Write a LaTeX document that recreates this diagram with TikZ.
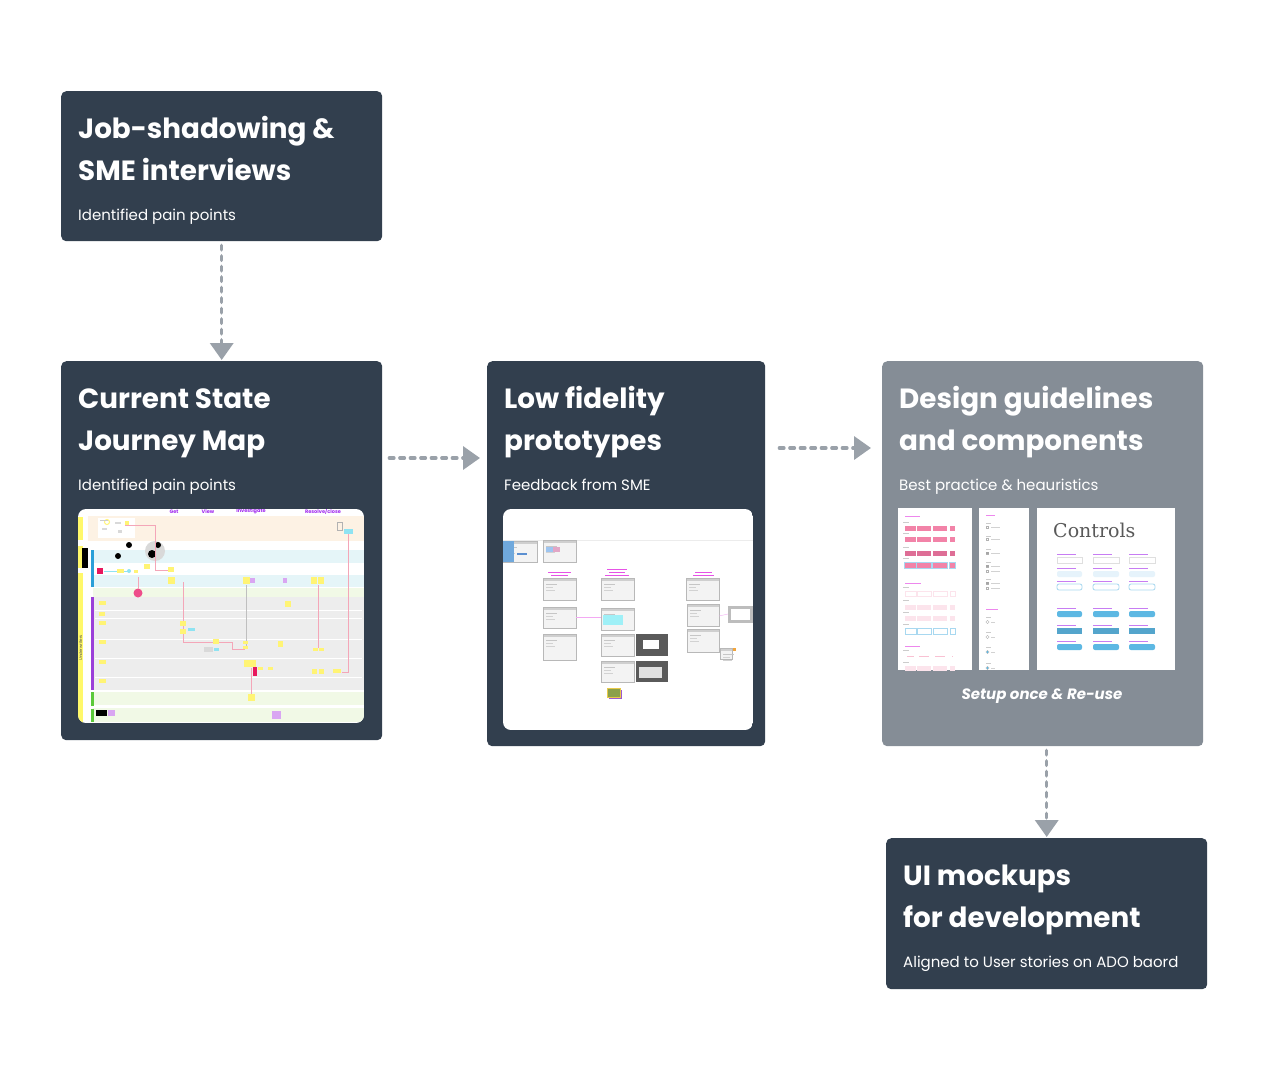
\documentclass[tikz,border=0pt]{standalone}
\usepackage{fontspec}
\setmainfont{Poppins}
\newfontfamily\slabfont{DejaVu Serif}
\usetikzlibrary{arrows.meta}
\definecolor{boxdark}{HTML}{323F4E}
\definecolor{boxgray}{HTML}{858D96}
\definecolor{arrowgray}{HTML}{9AA1A9}
\definecolor{jpeach}{HTML}{FDF2E4}
\definecolor{jcyan}{HTML}{E5F5F8}
\definecolor{jgreen}{HTML}{F1F9E6}
\definecolor{jgrey}{HTML}{EDEDED}
\definecolor{jyellow}{HTML}{FFF86A}
\definecolor{jblue}{HTML}{2A9FD8}
\definecolor{jpurple}{HTML}{9B3FD9}
\definecolor{jgreenbar}{HTML}{5CC93A}
\definecolor{jsticky}{HTML}{FFF475}
\definecolor{jlilac}{HTML}{D9A6F2}
\definecolor{jpinkline}{HTML}{F4A6B8}
\definecolor{jtitle}{HTML}{A12BF0}
\definecolor{jhot}{HTML}{EE4D8A}
\definecolor{jred}{HTML}{E8175D}
\definecolor{jaqua}{HTML}{8FE3F2}
\definecolor{shotfill}{HTML}{F3F3F3}
\definecolor{shotbar}{HTML}{CFCFCF}
\definecolor{shotline}{HTML}{B8B8B8}
\definecolor{magtext}{HTML}{E653E6}
\definecolor{pbtn}{HTML}{F283A8}
\definecolor{pbtndark}{HTML}{DE6E96}
\definecolor{plight}{HTML}{FCE4EC}
\definecolor{lblue}{HTML}{A8D8F0}
\definecolor{cblue}{HTML}{5DB8E3}
\definecolor{clight}{HTML}{E6F3FB}
\definecolor{clabel}{HTML}{C77DF3}
\definecolor{pa}{HTML}{6FA8DC}
\definecolor{pb}{HTML}{5B8FD0}
\definecolor{pc}{HTML}{9EC5F0}
\definecolor{pd}{HTML}{E2A6C6}
\definecolor{pe}{HTML}{9FF0F7}
\definecolor{pf}{HTML}{5A5A5A}
\definecolor{pg}{HTML}{E0E0E0}
\definecolor{ph}{HTML}{BDBDBD}
\definecolor{pi}{HTML}{F2A43A}
\definecolor{pj}{HTML}{9B59D0}
\definecolor{pk}{HTML}{8BA04A}
\definecolor{pl}{HTML}{E8C94A}

\newcommand\shotbox[4]{%
  \fill[shotfill] (#1,#2) rectangle (#3,#4);
  \fill[shotbar] (#1,#2) rectangle (#3,#2+2.5);
  \draw[shotline,line width=0.6pt] (#1,#2) rectangle (#3,#4);
  \draw[gray!45,line width=0.5pt] (#1+3,#2+6) -- (#1+14,#2+6);
  \draw[gray!35,line width=0.4pt] (#1+3,#2+9) -- (#1+10,#2+9);
  \draw[gray!35,line width=0.4pt] (#1+3,#2+12) -- (#1+12,#2+12);
}
\newcommand\stickynote[5]{\fill[#5] (#1,#2) rectangle (#1+#3,#2+#4);}

\begin{document}
\begin{tikzpicture}[x=1pt,y=-1pt,
  box/.style={fill=boxdark, rounded corners=5pt, inner sep=0pt, anchor=north west},
  graybox/.style={fill=boxgray, rounded corners=5pt, inner sep=0pt, anchor=north west},
  title/.style={text=white, anchor=base west, inner sep=0pt, font=\fontsize{27.8}{30}\selectfont\bfseries},
  sub/.style={text=white, anchor=base west, inner sep=0pt, font=\fontsize{15}{17}\selectfont},
  flow/.style={draw=arrowgray, line width=3.5pt, line cap=round, dash pattern=on 4.5pt off 6pt,
    -{Triangle[length=17pt,width=23pt,line cap=butt]}},
  tiny/.style={inner sep=0pt, font=\fontsize{5}{5}\selectfont\bfseries, text=jtitle}
]
\useasboundingbox (0,0) rectangle (1268,1080);

% ---------- boxes ----------
\node[box, minimum width=321pt, minimum height=150pt] (b1) at (61,91) {};
\node[box, minimum width=321pt, minimum height=379pt] (b2) at (61,361) {};
\node[box, minimum width=278pt, minimum height=385pt] (b3) at (487,361) {};
\node[graybox, minimum width=321pt, minimum height=385pt] (b4) at (882,361) {};
\node[box, minimum width=321pt, minimum height=151pt] (b5) at (886,838) {};

% ---------- texts ----------
\node[title] (t1a) at (78,138) {Job-shadowing \&};
\node[title] (t1b) at (78,180) {SME interviews};
\node[sub]   (s1)  at (78,220) {Identified pain points};

\node[title] (t2a) at (78,408) {Current State};
\node[title] (t2b) at (78,450) {Journey Map};
\node[sub]   (s2)  at (78,490) {Identified pain points};

\node[title] (t3a) at (504,408) {Low fidelity};
\node[title] (t3b) at (504,450) {prototypes};
\node[sub]   (s3)  at (504,490) {Feedback from SME};

\node[title] (t4a) at (899,408) {Design guidelines};
\node[title] (t4b) at (899,450) {and components};
\node[sub]   (s4)  at (899,490) {Best practice \& heauristics};
\node[text=white, anchor=base, inner sep=0pt, font=\fontsize{15}{17}\selectfont\bfseries\itshape] (s4b) at (1042,699) {Setup once \& Re-use};

\node[title] (t5a) at (903,885) {UI mockups};
\node[title] (t5b) at (903,927) {for development};
\node[sub]   (s5)  at (903,967) {Aligned to User stories on ADO baord};

% ---------- arrows ----------
\coordinate (y2) at (0,458);
\coordinate (y3) at (0,448);
\draw[flow, shorten <=4pt, shorten >=1pt] (b1.south) -- (b2.north);
\draw[flow, shorten <=7pt, shorten >=7pt] (b2.east |- y2) -- (b3.west |- y2);
\draw[flow, shorten <=14pt, shorten >=11pt] (b3.east |- y3) -- (b4.west |- y3);
\draw[flow, shorten <=4pt, shorten >=1pt] (b4.south -| b5.north) -- (b5.north);

% ---------- journey map thumbnail ----------
\begin{scope}
\clip[rounded corners=8pt] (78,509) rectangle (364,723);
\fill[white] (78,509) rectangle (364,723);
\fill[jpeach] (88,516) rectangle (364,541);
\fill[jcyan] (93,550) rectangle (364,563);
\fill[jcyan] (93,575) rectangle (364,587);
\fill[jgreen] (93,588) rectangle (364,597);
\fill[jgrey] (93,597) rectangle (364,690);
\foreach \yy in {610,618,639,658,677} \draw[white, line width=0.7pt] (95,\yy) -- (362,\yy);
\fill[jgreen] (93,692) rectangle (364,705);
\fill[jgreen] (93,708) rectangle (364,722);
\fill[jyellow] (78,517) rectangle (83,540);
\fill[jyellow] (78,546) rectangle (83,568);
\fill[jyellow] (78,573) rectangle (83,723);
\fill[black] (82,548) rectangle (88,568);
\fill[jblue] (91,550) rectangle (94,587);
\fill[jpurple] (91,597) rectangle (94,690);
\fill[jgreenbar] (91,692) rectangle (94,706);
\fill[jgreenbar] (91,709) rectangle (94,722);
\node[inner sep=0pt, rotate=90, font=\fontsize{4}{4}\selectfont, text=black!70] (jl) at (80.5,648) {Underwriters};
% small diagram area
\fill[white] (98,518) rectangle (135,538);
\draw[jsticky, line width=1pt] (107,522) circle (2.5);
\fill[gray!40] (100,520) rectangle (108,521);
\fill[gray!30] (115,522) rectangle (121,524);
\fill[gray!30] (118,530) rectangle (122,533);
\fill[gray!30] (102,528) rectangle (107,530);
\fill[jsticky] (125,521) rectangle (129,525);
% circles
\fill[gray!30] (155,551) circle (10);
\fill[black] (118,556) circle (3);
\fill[black] (129,545) circle (3);
\fill[black] (158,545) circle (3);
\fill[black] (152,554) circle (4);
\fill[jhot] (138,593) circle (4.5);
\fill[jred] (97,568) rectangle (103,574);
% pink lines
\draw[jpinkline, line width=0.7pt] (125,525) -- (155,525) -- (155,570) -- (172,570);
\draw[jpinkline, line width=0.7pt] (348,532) -- (348,672) -- (342,672);
\draw[jpinkline, line width=0.7pt] (251,668) -- (251,700);
\draw[jpinkline, line width=0.7pt] (183,582) -- (183,642) -- (232,642) -- (232,649) -- (245,649);
\draw[jpinkline, line width=0.7pt] (318,585) -- (318,648);
\draw[jpinkline, line width=0.7pt] (138,577) -- (138,589);
\draw[gray!50, line width=0.4pt] (246,585) -- (246,648);
\draw[jaqua, line width=0.5pt] (104,571) -- (130,571);
\fill[jaqua] (129,571) circle (2);
% stickies
\foreach \sx/\sy/\sw/\sh in {117/569/7/4, 144/564/6/5, 168/567/6/5, 168/577/7/7, 243/577/7/7,
  311/577/6/7, 318/577/6/7, 285/601/6/6, 99/601/7/4, 99/612/6/4, 99/621/7/4, 99/640/7/4,
  99/660/7/4, 99/679/7/4, 180/621/6/5, 180/629/6/5, 213/639/6/5, 243/641/5/3, 243/646/5/3,
  278/641/5/6, 244/660/12/7, 258/667/5/3, 268/667/5/3, 313/648/5/3, 319/648/5/3, 312/669/5/5,
  319/669/5/5, 333/669/8/4, 248/694/7/7, 134/570/4/3}
  {\stickynote{\sx}{\sy}{\sw}{\sh}{jsticky}}
\foreach \sx/\sy/\sw/\sh in {250/578/5/5, 283/578/4/5, 108/710/7/6, 272/711/9/8}
  {\stickynote{\sx}{\sy}{\sw}{\sh}{jlilac}}
\fill[black] (96,710) rectangle (107,716);
\fill[jred] (253,667) rectangle (257,676);
\foreach \sx/\sy/\sw/\sh in {344/529/9/5, 188/628/7/3, 214/648/5/3}
  {\stickynote{\sx}{\sy}{\sw}{\sh}{jaqua}}
\draw[gray!60, line width=0.4pt] (337,522) rectangle (342,530);
\fill[gray!30] (204,647) rectangle (213,652);
% column titles
\node[tiny, anchor=center] (jg) at (174,511.5) {Get};
\node[tiny, anchor=center] (jv) at (208,511.5) {View};
\node[tiny, anchor=center] (ji) at (251,511.5) {Investigate};
\node[tiny, anchor=center] (jr) at (323,511.5) {Resolve/close};
\end{scope}

% ---------- prototypes thumbnail ----------
\begin{scope}
\clip[rounded corners=8pt] (503,509) rectangle (753,730);
\fill[white] (503,509) rectangle (753,730);
\draw[gray!15, line width=0.6pt] (503,540) -- (753,540);
\shotbox{503}{541}{537}{562}
\fill[pa] (503,541) rectangle (514,562);
\fill[pb] (517,553) rectangle (527,554.5);
\shotbox{543}{540}{576}{562}
\fill[pc] (546,547) rectangle (553,552);
\fill[pd] (553,547) rectangle (560,552);
\shotbox{543}{578}{576}{600}
\shotbox{543}{607}{576}{628}
\shotbox{543}{634}{576}{660}
\shotbox{601}{578}{634}{600}
\shotbox{601}{608}{634}{630}
\fill[pe] (603,615) rectangle (623,625);
\shotbox{601}{634}{634}{656}
\fill[pf] (636,634) rectangle (668,656);
\fill[white] (643,640) rectangle (659,649);
\shotbox{601}{661}{634}{682}
\fill[pf] (636,661) rectangle (668,682);
\fill[pg] (639,667) rectangle (662,678);
\shotbox{686}{578}{719}{600}
\shotbox{687}{604}{719}{626}
\fill[ph] (728,606) rectangle (753,623);
\fill[white] (731,609) rectangle (750,620);
\shotbox{687}{629}{719}{652}
\shotbox{720}{648}{732}{659}
\fill[pi] (733,648) rectangle (736,651);
\fill[pj] (609,690) rectangle (622,699);
\filldraw[fill=pk, draw=pl, line width=0.6pt] (607,688) rectangle (620,697);
\foreach \lx/\ly/\lw in {548/572/23, 551/575/17, 607/569/20, 609/572/16, 605/575/24, 695/572/17, 693/575/21}
  \draw[magtext, line width=0.7pt] (\lx,\ly) -- (\lx+\lw,\ly);
\draw[magtext!50, line width=0.4pt] (576,617) -- (601,617);
\draw[magtext!50, line width=0.4pt] (719,616) -- (728,614);
\end{scope}

% ---------- design guideline panels ----------
\fill[white] (898,508) rectangle (972,670);
\fill[white] (979,508) rectangle (1029,670);
\fill[white] (1037,508) rectangle (1175,670);
% panel 1
\draw[magtext!70, line width=0.8pt] (905,516) -- (920,516);
\foreach \yy in {522,533,547,558,587,600,612,624,650,662}
  \draw[gray!40, line width=0.6pt] (903,\yy) -- (909,\yy);
\foreach \yy/\cc in {528/pbtn,539/pbtn,553/pbtndark,565/pbtn}
  \foreach \xa/\xb in {905/916,917/931,933/947,950/955}
    \fill[\cc] (\xa,\yy-2.5) rectangle (\xb,\yy+2.5);
\foreach \xa/\xb in {905/916,917/931,933/947,950/955}
  \draw[lblue, line width=0.5pt] (\xa-0.7,565-3.2) rectangle (\xb+0.7,565+3.2);
\draw[magtext!70, line width=0.8pt] (905,583) -- (921,583);
\foreach \yy/\cc in {607/plight,618/plight}
  \foreach \xa/\xb in {905/916,917/931,933/947,950/955}
    \fill[\cc] (\xa,\yy-2.5) rectangle (\xb,\yy+2.5);
\foreach \xa/\xb in {905/916,917/931,933/947,950/955}{
  \draw[plight, line width=0.5pt] (\xa,594-2.5) rectangle (\xb,594+2.5);
  \draw[lblue, line width=0.6pt] (\xa,631-2.8) rectangle (\xb,631+2.8);
  \fill[plight] (\xa,668-2.5) rectangle (\xb,668+2.5);
  \draw[pbtn!50, line width=0.5pt] (\xa+2,656) -- (\xb-2,656);}
\draw[magtext!70, line width=0.8pt] (905,646) -- (920,646);
% panel 2
\draw[magtext!70, line width=0.8pt] (986,515) -- (995,515);
\foreach \yy in {523,536,549,562,579}
  \draw[gray!40, line width=0.5pt] (986,\yy) -- (991,\yy);
\foreach \yy in {527,539,553,566,571,583,588}{
  \draw[gray!60, line width=0.4pt] (986,\yy-1.3) rectangle (988.6,\yy+1.3);
  \draw[gray!35, line width=0.5pt] (991,\yy) -- (1000,\yy);}
\fill[gray!70] (986,553-1.3) rectangle (988.6,553+1.3);
\fill[gray!70] (986,566-1.3) rectangle (988.6,566+1.3);
\fill[gray!70] (986,583-1.3) rectangle (988.6,583+1.3);
\draw[magtext!70, line width=0.8pt] (986,609) -- (998,609);
\foreach \yy in {622,637,652,668}{
  \draw[gray!60, line width=0.4pt] (987.5,\yy) circle (1.6);
  \draw[gray!35, line width=0.5pt] (991,\yy) -- (995,\yy);
  \draw[gray!40, line width=0.5pt] (986,\yy-5) -- (991,\yy-5);}
\fill[cblue] (987.5,652) circle (1.2);
\fill[cblue] (987.5,668) circle (1.2);
% panel 3
\node[anchor=base west, inner sep=0pt, font=\slabfont\fontsize{19}{20}\selectfont, text=black!65] (ctl) at (1053,537) {Controls};
\foreach \xa/\xb in {1057/1082,1093/1119,1129/1155}{
  \foreach \yy in {560,574,587,614,631,647}
    \draw[clabel, line width=0.9pt] (\xa,\yy-5.5) -- (\xa+19,\yy-5.5);
  \draw[gray!25, line width=0.4pt] (\xa,557) rectangle (\xb,563);
  \fill[clight, rounded corners=2pt] (\xa,571) rectangle (\xb,577);
  \draw[lblue, line width=0.8pt, rounded corners=2pt] (\xa,584) rectangle (\xb,590);
  \fill[cblue, rounded corners=2pt] (\xa,611) rectangle (\xb,617);
  \fill[cblue!90!black] (\xa,628) rectangle (\xb,634);
  \fill[cblue, rounded corners=2pt] (\xa,644) rectangle (\xb,650);
}
\end{tikzpicture}
\end{document}
